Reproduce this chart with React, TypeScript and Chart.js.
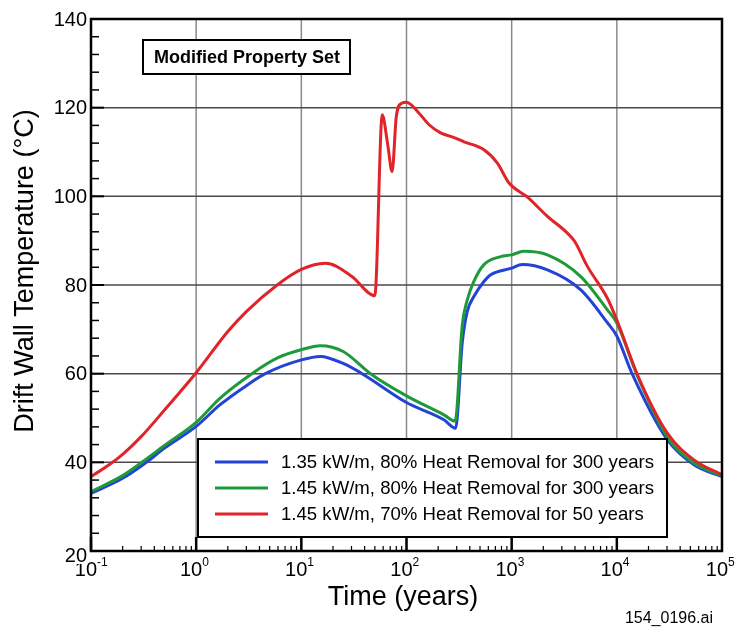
import React, { useEffect, useRef } from "react";
import { Chart, registerables } from "chart.js";

Chart.register(...registerables);

// ---------- data ----------
const seriesLabels = [
  "1.35 kW/m, 80% Heat Removal for 300 years",
  "1.45 kW/m, 80% Heat Removal for 300 years",
  "1.45 kW/m, 70% Heat Removal for 50 years",
];
const seriesColors = ["#2342d8", "#1f9a3a", "#e0242a"];

const blueTimes = [0.1, 0.2, 0.327, 0.5, 1, 1.69, 3, 4.54, 10, 15.2, 25, 37.8, 100, 227, 293, 339, 378, 437, 545, 631, 1000, 1259, 2188, 4540, 8130, 10000, 13960, 30200, 54500, 100000];
const blueTemps = [33.0, 36.4, 39.8, 43.2, 48.1, 53.0, 57.3, 60, 63.1, 63.9, 62.3, 60, 53.5, 49.6, 47.7, 67, 74, 77.4, 80.8, 82.3, 83.8, 84.6, 83.4, 78.9, 71.5, 68.5, 60, 45.1, 39.4, 36.8];

const greenTimes = [0.1, 0.2, 0.304, 0.5, 1, 1.69, 3.39, 6, 10, 15.2, 25, 45.4, 100, 227, 290, 339, 378, 437, 545, 785, 1000, 1300, 2188, 4540, 8130, 10000, 15740, 30200, 54500, 100000];
const greenTemps = [33.4, 37, 40, 43.8, 49.0, 54.5, 60, 63.6, 65.4, 66.3, 65, 60, 55, 50.7, 49.3, 71, 76.6, 80.8, 84.6, 86.4, 86.8, 87.6, 86.8, 81.9, 74.4, 71.4, 59.4, 45.7, 39.8, 37];

const redTimes = [0.1, 0.15, 0.2, 0.3, 0.5, 1, 2, 3, 5.9, 10, 17, 30, 50, 58.8, 66, 73, 80, 90, 100, 131, 163, 211, 280, 352, 545, 731, 944, 1413, 2188, 3388, 3980, 5250, 8130, 10000, 15740, 30200, 54500, 100000];
const redTemps = [36.8, 39.5, 41.8, 45.8, 51.8, 60.2, 69.5, 74, 80, 83.5, 84.9, 82, 77.6, 118.4, 112, 105.6, 118, 121, 121.2, 118.8, 116.2, 114.3, 113.3, 112.3, 110.5, 107.5, 103, 99.8, 95.5, 91.7, 89.8, 84.2, 77, 72.1, 59.7, 46.6, 40.5, 37.2];

const yTicks = [20, 40, 60, 80, 100, 120, 140];
const xDecades = [-1, 0, 1, 2, 3, 4, 5];
const xTitle = "Time (years)";
const yTitle = "Drift Wall Temperature (°C)";
const boxNote = "Modified Property Set";
const fileNote = "154_0196.ai";

const FONT = '"Liberation Sans", Arial, Helvetica, sans-serif';

function toPoints(ts: number[], vs: number[]) {
  return ts.map((t, i) => ({ x: t, y: vs[i] }));
}

const customPlugin = {
  id: "customDecor",
  beforeDatasetsDraw(chart: any) {
    const { ctx, chartArea: a, scales } = chart;
    const xs = scales.x;
    const ys = scales.y;
    ctx.save();
    ctx.lineWidth = 1.5;
    ctx.strokeStyle = "#8a8a8a";
    for (const d of xDecades.slice(1, -1)) {
      const px = xs.getPixelForValue(Math.pow(10, d));
      ctx.beginPath();
      ctx.moveTo(px, a.top);
      ctx.lineTo(px, a.bottom);
      ctx.stroke();
    }
    ctx.strokeStyle = "#4a4a4a";
    for (const v of yTicks.slice(1, -1)) {
      const py = ys.getPixelForValue(v);
      ctx.beginPath();
      ctx.moveTo(a.left, py);
      ctx.lineTo(a.right, py);
      ctx.stroke();
    }
    ctx.restore();
  },
  afterDatasetsDraw(chart: any) {
    const { ctx, chartArea: a, scales } = chart;
    const xs = scales.x;
    const ys = scales.y;
    ctx.save();

    // legend box
    const lx0 = 198, ly0 = 439, lx1 = 667, ly1 = 537;
    ctx.fillStyle = "#ffffff";
    ctx.fillRect(lx0, ly0, lx1 - lx0, ly1 - ly0);
    ctx.lineWidth = 2;
    ctx.strokeStyle = "#000";
    ctx.strokeRect(lx0, ly0, lx1 - lx0, ly1 - ly0);
    const rows = [462, 488, 514];
    ctx.font = `18.6px ${FONT}`;
    ctx.textBaseline = "middle";
    ctx.textAlign = "left";
    seriesLabels.forEach((lab, i) => {
      ctx.strokeStyle = seriesColors[i];
      ctx.lineWidth = 3;
      ctx.beginPath();
      ctx.moveTo(215, rows[i]);
      ctx.lineTo(268, rows[i]);
      ctx.stroke();
      ctx.fillStyle = "#000";
      ctx.fillText(lab, 281, rows[i] + 1);
    });

    // note box
    ctx.fillStyle = "#fff";
    ctx.fillRect(143, 40, 207, 34);
    ctx.lineWidth = 2;
    ctx.strokeStyle = "#000";
    ctx.strokeRect(143, 40, 207, 34);
    ctx.fillStyle = "#000";
    ctx.font = `bold 18px ${FONT}`;
    ctx.textAlign = "center";
    ctx.fillText(boxNote, 247, 58);

    // y minor/major ticks (inside, on left axis)
    ctx.strokeStyle = "#000";
    for (let v = 20; v <= 140; v += 4) {
      const py = ys.getPixelForValue(v);
      const major = v % 20 === 0;
      ctx.lineWidth = major ? 2 : 1.5;
      ctx.beginPath();
      ctx.moveTo(a.left, py);
      ctx.lineTo(a.left + (major ? 13 : 8), py);
      ctx.stroke();
    }
    // x ticks (inside, on bottom axis)
    for (let d = -1; d < 5; d++) {
      for (let m = 1; m <= 9; m++) {
        const val = m * Math.pow(10, d);
        const px = xs.getPixelForValue(val);
        const major = m === 1;
        ctx.lineWidth = major ? 2.5 : 1.2;
        ctx.beginPath();
        ctx.moveTo(px, a.bottom);
        ctx.lineTo(px, a.bottom - (major ? 14 : 5));
        ctx.stroke();
      }
    }

    // frame
    ctx.lineWidth = 2.5;
    ctx.strokeStyle = "#000";
    ctx.strokeRect(a.left, a.top, a.right - a.left, a.bottom - a.top);

    // x tick labels 10^n
    ctx.fillStyle = "#000";
    ctx.textBaseline = "alphabetic";
    for (const d of xDecades) {
      const px = xs.getPixelForValue(Math.pow(10, d));
      ctx.font = `20px ${FONT}`;
      ctx.textAlign = "right";
      ctx.fillText("10", px + 6, 576);
      ctx.font = `12px ${FONT}`;
      ctx.textAlign = "left";
      ctx.fillText(String(d), px + 6, 566);
    }

    // y tick labels
    ctx.font = `20px ${FONT}`;
    ctx.textAlign = "right";
    ctx.textBaseline = "middle";
    for (const v of yTicks) {
      const py = ys.getPixelForValue(v) + (v === 20 ? 4 : 0);
      const w = ctx.measureText(String(v)).width;
      ctx.fillStyle = "#fff";
      ctx.fillRect(87 - w - 1, py - 8, w + 2, 17);
      ctx.fillStyle = "#000";
      ctx.fillText(String(v), 87, py + 1);
    }

    // axis titles
    ctx.font = `27px ${FONT}`;
    ctx.textAlign = "center";
    ctx.textBaseline = "alphabetic";
    ctx.fillText(xTitle, 403, 605);
    ctx.save();
    ctx.translate(33, 271);
    ctx.rotate(-Math.PI / 2);
    ctx.fillText(yTitle, 0, 0);
    ctx.restore();

    ctx.font = `16px ${FONT}`;
    ctx.textAlign = "right";
    ctx.fillText(fileNote, 713, 623);

    ctx.restore();
  },
};

export default function App() {
  const ref = useRef<HTMLCanvasElement | null>(null);
  useEffect(() => {
    if (!ref.current) return;
    const chart = new Chart(ref.current, {
      type: "line",
      data: {
        datasets: [
          { label: seriesLabels[2], data: toPoints(redTimes, redTemps), borderColor: seriesColors[2] },
          { label: seriesLabels[1], data: toPoints(greenTimes, greenTemps), borderColor: seriesColors[1] },
          { label: seriesLabels[0], data: toPoints(blueTimes, blueTemps), borderColor: seriesColors[0] },
        ].map((d) => ({ ...d, borderWidth: 3, pointRadius: 0, fill: false, cubicInterpolationMode: "monotone" as const })),
      },
      options: {
        animation: false,
        responsive: false,
        maintainAspectRatio: false,
        devicePixelRatio: 1,
        layout: { padding: { left: 91, top: 19, right: 14, bottom: 77 } },
        plugins: { legend: { display: false }, tooltip: { enabled: false }, title: { display: false } },
        scales: {
          x: { type: "logarithmic", min: 0.1, max: 100000, display: false },
          y: { type: "linear", min: 20, max: 140, display: false },
        },
      },
      plugins: [customPlugin],
    });
    return () => chart.destroy();
  }, []);
  return (
    <div style={{ position: "absolute", left: 0, top: 0, width: 736, height: 628, background: "#fff" }}>
      <canvas ref={ref} width={736} height={628} style={{ display: "block" }} />
    </div>
  );
}
